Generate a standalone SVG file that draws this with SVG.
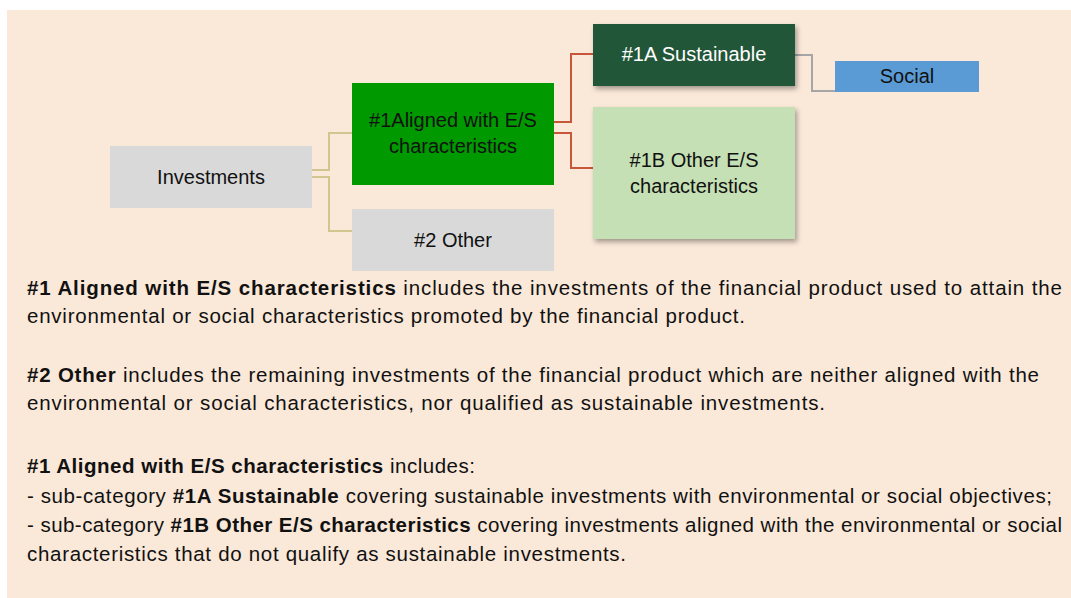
<svg xmlns="http://www.w3.org/2000/svg" width="1071" height="598" viewBox="0 0 1071 598">
<defs>
<filter id="sh" x="-10%" y="-10%" width="125%" height="130%">
<feDropShadow dx="2" dy="3" stdDeviation="2.5" flood-color="#000" flood-opacity="0.35"/>
</filter>
<style>
.t{font-family:"Liberation Sans",Arial,sans-serif;font-size:20.5px;fill:#111}
.b{font-weight:bold}
.n{font-family:"Liberation Sans",Arial,sans-serif;font-size:20px;fill:#111;text-anchor:middle}
.w{fill:#fff}
.cy{fill:none;stroke:#d2c690;stroke-width:2}
.cr{fill:none;stroke:#c8573a;stroke-width:2}
.cg{fill:none;stroke:#a6a6a6;stroke-width:2}
</style>
</defs>
<rect x="0" y="0" width="1071" height="598" fill="#fff"/>
<rect x="7" y="10" width="1064" height="588" fill="#fae8d8"/>
<g id="connectors">
<path class="cy" d="M312,170 H329 V133 H352"/>
<path class="cy" d="M312,177 H329 V231 H352"/>
<path class="cr" d="M554,122 H571 V54 H593"/>
<path class="cr" d="M554,133 H571 V168 H593"/>
<path class="cg" d="M795,55 H812 V91 H835"/>
</g>
<g id="investments">
<rect x="110" y="146" width="202" height="62" fill="#d9d9d9"/>
<text class="n" x="211" y="184">Investments</text>
</g>
<g id="aligned">
<rect x="352" y="83" width="202" height="102" fill="#009900"/>
<text class="n" x="453" y="127">#1Aligned with E/S</text>
<text class="n" x="453" y="153">characteristics</text>
</g>
<g id="other">
<rect x="352" y="209" width="202" height="62" fill="#d9d9d9"/>
<text class="n" x="453" y="247">#2 Other</text>
</g>
<g id="sustainable">
<rect x="593" y="24" width="202" height="62" fill="#245639" filter="url(#sh)"/>
<text class="n w" x="694" y="61">#1A Sustainable</text>
</g>
<g id="otheres">
<rect x="593" y="107" width="202" height="132" fill="#c5e0b4" filter="url(#sh)"/>
<text class="n" x="694" y="167">#1B Other E/S</text>
<text class="n" x="694" y="193">characteristics</text>
</g>
<g id="social">
<rect x="835" y="61" width="144" height="31" fill="#5b9bd5"/>
<text class="n" x="907" y="83">Social</text>
</g>
<g id="legend">
<text class="t" x="27" y="295" textLength="1035" lengthAdjust="spacing"><tspan class="b">#1 Aligned with E/S characteristics</tspan> includes the investments of the financial product used to attain the</text>
<text class="t" x="27" y="323" textLength="718" lengthAdjust="spacing">environmental or social characteristics promoted by the financial product.</text>
<text class="t" x="27" y="382" textLength="1012" lengthAdjust="spacing"><tspan class="b">#2 Other</tspan> includes the remaining investments of the financial product which are neither aligned with the</text>
<text class="t" x="27" y="410" textLength="798" lengthAdjust="spacing">environmental or social characteristics, nor qualified as sustainable investments.</text>
<text class="t" x="27" y="473" textLength="448" lengthAdjust="spacing"><tspan class="b">#1 Aligned with E/S characteristics</tspan> includes:</text>
<text class="t" x="27" y="503" textLength="1025" lengthAdjust="spacing">- sub-category <tspan class="b">#1A Sustainable</tspan> covering sustainable investments with environmental or social objectives;</text>
<text class="t" x="27" y="532" textLength="1035" lengthAdjust="spacing">- sub-category <tspan class="b">#1B Other E/S characteristics</tspan> covering investments aligned with the environmental or social</text>
<text class="t" x="27" y="561" textLength="599" lengthAdjust="spacing">characteristics that do not qualify as sustainable investments.</text>
</g>
</svg>
